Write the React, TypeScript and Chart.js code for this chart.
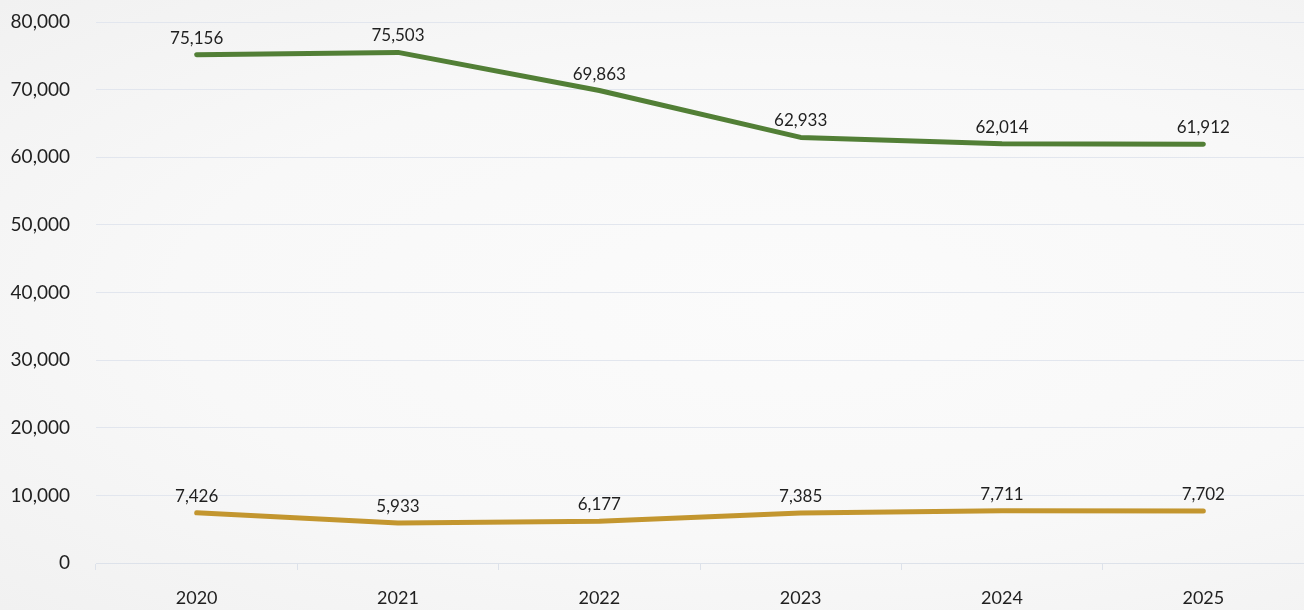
import React, { useEffect, useRef } from "react";
import { Chart, registerables } from "chart.js";

Chart.register(...registerables);

const years = ["2020", "2021", "2022", "2023", "2024", "2025"];
const greenSeries = [75156, 75503, 69863, 62933, 62014, 61912];
const goldSeries = [7426, 5933, 6177, 7385, 7711, 7702];
const yTickValues = [0, 10000, 20000, 30000, 40000, 50000, 60000, 70000, 80000];

const fmt = (v: number) => v.toLocaleString("en-US");
const FONT = "Lato, 'Open Sans', sans-serif";

const dataLabelPlugin = {
  id: "dataLabels",
  afterDatasetsDraw(chart: any) {
    const ctx = chart.ctx;
    ctx.save();
    ctx.font = "17px " + FONT;
    ctx.fillStyle = "#1f1f1f";
    ctx.textAlign = "center";
    ctx.textBaseline = "alphabetic";
    chart.data.datasets.forEach((ds: any, i: number) => {
      const meta = chart.getDatasetMeta(i);
      meta.data.forEach((pt: any, j: number) => {
        ctx.fillText(fmt(ds.data[j]), pt.x, pt.y - 11);
      });
    });
    ctx.restore();
  },
};

export default function App() {
  const ref = useRef<HTMLCanvasElement>(null);
  useEffect(() => {
    document.body.style.margin = "0";
    const chart = new Chart(ref.current!, {
      type: "line",
      data: {
        labels: years,
        datasets: [
          {
            data: greenSeries,
            borderColor: "#527f36",
            borderWidth: 5,
            pointRadius: 0,
            borderCapStyle: "round",
            borderJoinStyle: "round",
            tension: 0,
          },
          {
            data: goldSeries,
            borderColor: "#c3962f",
            borderWidth: 5,
            pointRadius: 0,
            borderCapStyle: "round",
            borderJoinStyle: "round",
            tension: 0,
          },
        ],
      },
      options: {
        animation: false,
        responsive: false,
        maintainAspectRatio: false,
        layout: { padding: { top: 22, right: 0, left: 0, bottom: 0 } },
        plugins: { legend: { display: false }, tooltip: { enabled: false } },
        scales: {
          x: {
            offset: true,
            grid: {
              display: true,
              drawOnChartArea: false,
              drawTicks: true,
              tickLength: 7,
              color: "#dde2ea",
              offset: true,
            },
            border: { display: true, color: "#dde2ea", width: 1 },
            ticks: {
              color: "#1f1f1f",
              font: { family: FONT, size: 18 },
              padding: 17,
              maxRotation: 0,
            },
            afterFit: (s: any) => {
              s.height = 47;
            },
          },
          y: {
            min: 0,
            max: 80000,
            afterBuildTicks: (s: any) => {
              s.ticks = yTickValues.map((v) => ({ value: v }));
            },
            grid: {
              color: "#e2e6ee",
              drawTicks: true,
              tickLength: 22,
              tickColor: "rgba(0,0,0,0)",
              lineWidth: 1,
            },
            border: { display: false },
            ticks: {
              color: "#1f1f1f",
              font: { family: FONT, size: 19 },
              padding: 4,
              callback: (v: any) => fmt(Number(v)),
            },
            afterFit: (s: any) => {
              s.width = 96;
            },
          },
        },
      },
      plugins: [dataLabelPlugin],
    });
    return () => chart.destroy();
  }, []);
  return (
    <div
      style={{
        position: "fixed",
        left: 0,
        top: 0,
        width: 1304,
        height: 610,
        background:
          "radial-gradient(ellipse at 60% 50%, #fbfbfb 0%, #f8f8f8 55%, #f1f1f1 100%)",
      }}
    >
      <canvas ref={ref} width={1304} height={610} style={{ display: "block" }} />
    </div>
  );
}
